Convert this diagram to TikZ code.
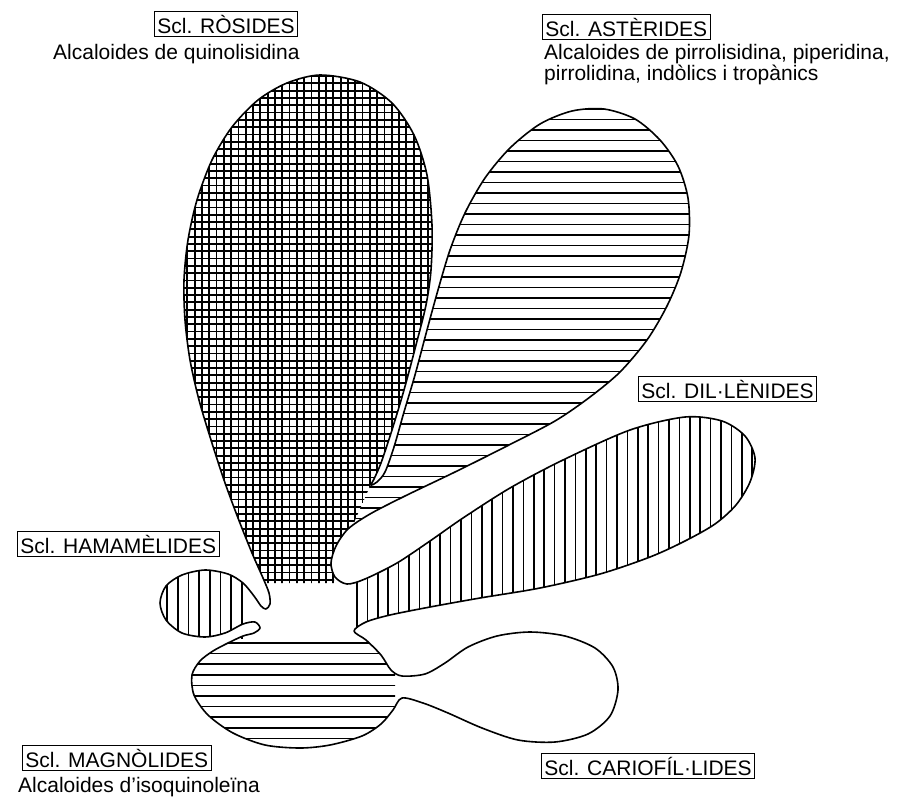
\documentclass[tikz,border=0pt]{standalone}
\usepackage{fontspec}
\setmainfont{Liberation Sans}
\begin{document}
\begin{tikzpicture}[x=1pt,y=-1pt,
  outl/.style={line width=1.6pt,line join=round},
  gridline/.style={line width=1.8pt},
  hatchline/.style={line width=1.7pt},
  lbl/.style={draw,line width=0.8pt,inner sep=3pt,anchor=west,font=\fontsize{21}{25}\selectfont},
  txt/.style={inner sep=0pt,anchor=base west,font=\fontsize{21}{25}\selectfont}]
\useasboundingbox (0,0) rectangle (906,807);
\def\outl{plot[smooth cycle,tension=0.5] coordinates {
(320,75)(360,82)(392,103)(414,135)(427,175)(432,225)(431,270)(426,305)(416,345)(404,390)(392,430)(381,463)(374,479)(371,485)
(377,482)(385,472)(394,447)(404,412)(415,375)(427,330)(438,290)(450,250)(465,213)(485,178)(510,148)(540,124)(572,111)(604,109)
(635,119)(660,140)(678,166)(688,198)(689,235)(681,272)(667,306)(647,340)(620,372)(590,397)(555,421)(505,447)(455,472)(405,496)
(370,514)(348,529)(336,546)(331,563)(335,577)(347,584)(365,579)(397,563)(430,541)(463,518)(510,488)(563,460)(630,430)(685,417)
(722,421)(745,436)(755,458)(750,482)(736,505)(715,524)(685,541)(650,557)(600,574)(540,588)(480,598)(430,607)(390,615)(366,622)
(354,631)(366,640)(381,655)(391,670)(402,676)(425,674)(445,663)(468,647)(497,636)(530,632)(565,636)(595,648)(613,667)(618,690)
(610,716)(588,734)(555,742)(518,740)(482,728)(448,713)(423,703)(402,698)(393,710)(381,724)(362,736)(330,745)(300,748)(265,745)
(233,733)(208,715)(194,695)(192,675)(200,661)(213,651)(228,643)(243,636)(254,633)(260,628)(255,622)(243,624)(225,633)(205,637)
(182,633)(166,620)(160,603)(166,586)(182,575)(205,570)(228,574)(243,583)(254,596)(261,606)(266,609)(270,604)(269,593)(263,578)
(252,553)(238,518)(224,480)(211,440)(199,400)(190,360)(185,320)(184,280)(188,240)(197,200)(212,160)(232,127)(258,100)(287,83)}}
% Rosides: grid
\begin{scope}
\clip \outl;
\clip (150,40) -- (447,40) -- (447,200) -- (443,250) -- (433,300) -- (415,370) -- (395,437) -- (378,475) -- (371,484)
  -- (349,534) -- (334,568) -- (334,583) -- (266,583) -- (250,555) -- (150,555) -- cycle;
\foreach \i in {0,...,38} \draw[gridline] ({180+7.3*\i},60) -- ({180+7.3*\i},600);
\foreach \j in {0,...,72} \draw[gridline] (170,{76+7.3*\j}) -- (450,{76+7.3*\j});
\end{scope}
% Asterides: horizontal
\begin{scope}
\clip \outl;
\clip (447,30) -- (447,200) -- (443,250) -- (433,300) -- (415,370) -- (395,437) -- (378,475) -- (371,484)
  -- (349,534) -- (334,568) -- (375,548) -- (463,495) -- (563,440) -- (640,400) -- (700,388) -- (906,388) -- (906,30) -- cycle;
\foreach \j in {0,...,45} \draw[hatchline] (320,{109+10.5*\j}) -- (720,{109+10.5*\j});
\end{scope}
% Dillenides: vertical
\begin{scope}
\clip \outl;
\clip (355.5,560) -- (375,548) -- (463,495) -- (563,440) -- (640,400) -- (700,388) -- (906,388) -- (906,600)
  -- (620,600) -- (530,612) -- (460,625) -- (400,640) -- (355.5,632) -- cycle;
\foreach \i in {0,...,40} \draw[hatchline,line width=1.6pt] ({357+10.4*\i},400) -- ({357+10.4*\i},650);
\end{scope}
% Hamamelides: vertical
\begin{scope}
\clip \outl;
\clip (150,560) rectangle (247,638);
\foreach \i in {0,...,8} \draw[hatchline,line width=1.6pt] ({167+10.7*\i},560) -- ({167+10.7*\i},640);
\end{scope}
% Magnolides: horizontal
\begin{scope}
\clip \outl;
\clip (150,641) rectangle (395,760);
\foreach \j in {0,...,10} \draw[hatchline] (180,{643+10.6*\j}) -- (400,{643+10.6*\j});
\end{scope}
% outline
\draw[outl] \outl;
% labels
\node[lbl] (ros) at (154,24) {Scl. RÒSIDES};
\node[txt] (rostxt) at (53,59) {Alcaloides de quinolisidina};
\node[lbl] (ast) at (542,27) {Scl. ASTÈRIDES};
\node[txt] (asttxta) at (544,59) {Alcaloides de pirrolisidina, piperidina,};
\node[txt] (asttxtb) at (544,80) {pirrolidina, indòlics i tropànics};
\node[lbl] (dil) at (638,389) {Scl. DIL·LÈNIDES};
\node[lbl] (ham) at (17,544) {Scl. HAMAMÈLIDES};
\node[lbl] (mag) at (22,758) {Scl. MAGNÒLIDES};
\node[txt] (magtxt) at (18,792) {Alcaloides d'isoquinoleïna};
\node[lbl] (car) at (541,766) {Scl. CARIOFÍL·LIDES};
\end{tikzpicture}
\end{document}
